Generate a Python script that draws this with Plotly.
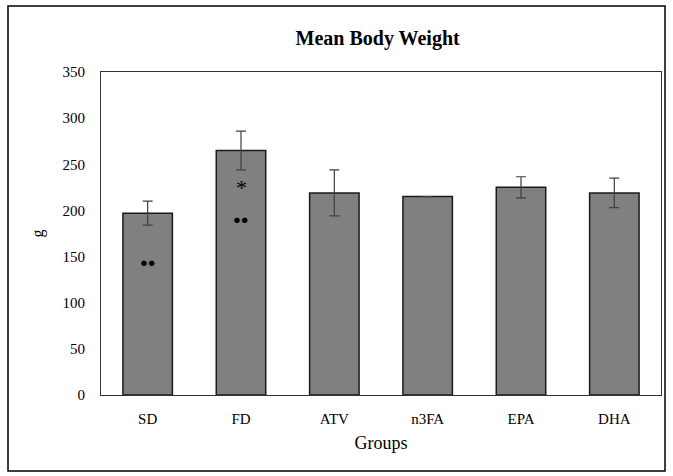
import plotly.graph_objects as go

groups = ["SD", "FD", "ATV", "n3FA", "EPA", "DHA"]
mean_weight = [197, 265, 219, 215, 225, 219]
sem_weight = [13, 21, 25, 0, 11.5, 16]
y_ticks = [0, 50, 100, 150, 200, 250, 300, 350]

# significance marks: (group, y, text)
marks = [("SD", 144, "●●"), ("FD", 190, "●●"), ("FD", 229, "*")]

W, H = 673, 476
L, R, T, B = 101, 661, 72, 395
pw, ph = R - L, B - T

fig = go.Figure()
fig.add_trace(go.Bar(
    x=groups, y=mean_weight,
    marker=dict(color="#808080", line=dict(color="#1a1a1a", width=1.5)),
    error_y=dict(type="data", array=sem_weight, color="#404040", thickness=1.2, width=5),
    width=0.53,
))

font = "Liberation Serif, Times New Roman, serif"
for g, yv, t in marks:
    fig.add_annotation(x=g, y=yv, text=t, showarrow=False,
                       font=dict(family=font, size=13 if t != "*" else 22, color="black"),
                       xref="x", yref="y", yshift=0 if t != "*" else -4)

def px(x):
    return (x - L) / pw

def py(y):
    return (B - y) / ph

fig.add_shape(type="rect", xref="paper", yref="paper",
              x0=px(8), x1=px(665), y0=py(471), y1=py(6),
              line=dict(color="black", width=1.5), layer="below")

fig.update_layout(
    width=W, height=H,
    margin=dict(l=L, r=W - R, t=T, b=H - B),
    paper_bgcolor="white", plot_bgcolor="white",
    showlegend=False,
    font=dict(family=font, size=14, color="black"),
    title=dict(text="<b>Mean Body Weight</b>", x=(L + R) / 2 / W - 0.005, xanchor="center",
               y=1 - 38 / H, yanchor="middle", font=dict(size=20, family=font)),
    xaxis=dict(showline=True, linecolor="#333", linewidth=1, mirror=True,
               ticks="", tickfont=dict(size=15), ticklabelstandoff=10,
               title=dict(text="Groups", font=dict(size=18), standoff=10)),
    yaxis=dict(range=[0, 350], tickvals=y_ticks, showline=True, linecolor="#333", linewidth=1,
               mirror=True, showgrid=False, zeroline=False, ticks="", tickfont=dict(size=15),
               ticklabelstandoff=12,
               title=dict(text="g", font=dict(size=16), standoff=14)),
)

fig.write_html("out.html")
